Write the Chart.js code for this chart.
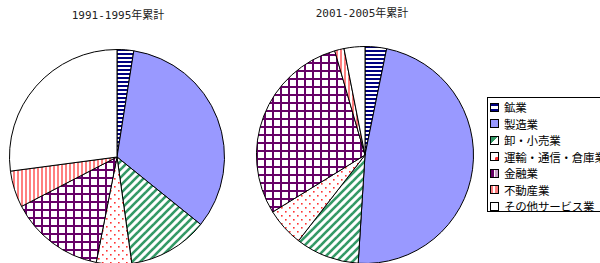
<!DOCTYPE html>
<html><head><meta charset="utf-8">
<script src="https://cdn.jsdelivr.net/npm/chart.js@4"></script>
<style>
html,body{margin:0;padding:0;width:600px;height:263px;overflow:hidden;background:#fff;}
body{position:relative;font-family:"Noto Sans CJK JP","Noto Sans","DejaVu Sans",sans-serif;}
canvas{position:absolute;}
.title{position:absolute;font-family:"DejaVu Sans Mono","Noto Sans CJK JP";font-size:11px;line-height:14px;color:#222;white-space:nowrap;transform:translateX(-50%);}
#legend{position:absolute;left:487px;top:97px;width:130px;height:115px;border:1px solid #000;box-sizing:border-box;padding-top:1px;}
.item{height:16.5px;display:flex;align-items:center;font-family:"Noto Sans CJK JP","Noto Sans";font-size:11.5px;letter-spacing:-0.2px;white-space:nowrap;color:#000;}
.sw{width:7px;height:7px;border:1px solid #000;margin:0 5px 0 2px;flex:none;}
</style></head>
<body>
<div class="title" style="left:118px;top:9px;">1991-1995年累計</div>
<div class="title" style="left:362px;top:7px;">2001-2005年累計</div>
<canvas id="c1" width="216" height="216" style="left:9px;top:49px;"></canvas>
<canvas id="c2" width="218" height="218" style="left:256px;top:46px;"></canvas>
<div id="legend"></div>
<script>
const categories = ["鉱業","製造業","卸・小売業","運輸・通信・倉庫業","金融業","不動産業","その他サービス業"];
const values1991 = [2.5, 33.3, 12.0, 5.3, 14.3, 5.5, 27.1];
const values2001 = [3.2, 47.8, 9.5, 5.7, 29.3, 1.4, 3.1];
const titles = ["1991-1995年累計","2001-2005年累計"];

function mk(size, draw){
  const c=document.createElement('canvas');c.width=size;c.height=size;
  const x=c.getContext('2d');x.fillStyle='#fff';x.fillRect(0,0,size,size);draw(x,size);
  return x.createPattern(c,'repeat');
}
const patterns = [
  mk(4,(x)=>{x.fillStyle='#000080';x.fillRect(0,0,4,2);}),
  '#9999FF',
  mk(8,(x)=>{x.strokeStyle='#339966';x.lineWidth=2.6;
    for(let k=-1;k<=1;k++){x.beginPath();x.moveTo(-2+k*8,10);x.lineTo(10+k*8,-2);x.stroke();}}),
  mk(8,(x)=>{x.fillStyle='#FF3333';x.fillRect(1,1,1.6,1.6);x.fillRect(5,5,1.6,1.6);}),
  mk(8,(x)=>{x.fillStyle='#660066';x.fillRect(0,0,2,8);x.fillRect(0,0,8,2);}),
  mk(4,(x)=>{x.fillStyle='#FF8080';x.fillRect(0,0,2,4);}),
  '#FFFFFF'
];
function pie(id, data){
  new Chart(document.getElementById(id),{
    type:'pie',
    data:{labels:categories,datasets:[{data:data,backgroundColor:patterns,borderColor:'#000',borderWidth:1}]},
    options:{responsive:false,animation:false,layout:{padding:0},
      plugins:{legend:{display:false},tooltip:{enabled:false},title:{display:false}}}
  });
}
pie('c1', values1991);
pie('c2', values2001);

const sw = [
  'background:linear-gradient(#000080 0 35%,#fff 35% 65%,#000080 65%)',
  'background:#9999FF',
  'background:linear-gradient(135deg,#339966 0 45%,#fff 45%)',
  'background:radial-gradient(circle at 80% 80%,#ff3333 0 18%,#fff 22%)',
  'background:linear-gradient(90deg,#660066 0 40%,#fff 40% 60%,#c9a0c9 60%)',
  'background:linear-gradient(90deg,#FF8080 0 35%,#fff 35% 60%,#FF8080 60%)',
  'background:#fff'
];
const lg=document.getElementById('legend');
categories.forEach((c,i)=>{
  const d=document.createElement('div');d.className='item';
  d.innerHTML='<span class="sw" style="'+sw[i]+'"></span><span>'+c+'</span>';
  lg.appendChild(d);
});
</script>
</body></html>
